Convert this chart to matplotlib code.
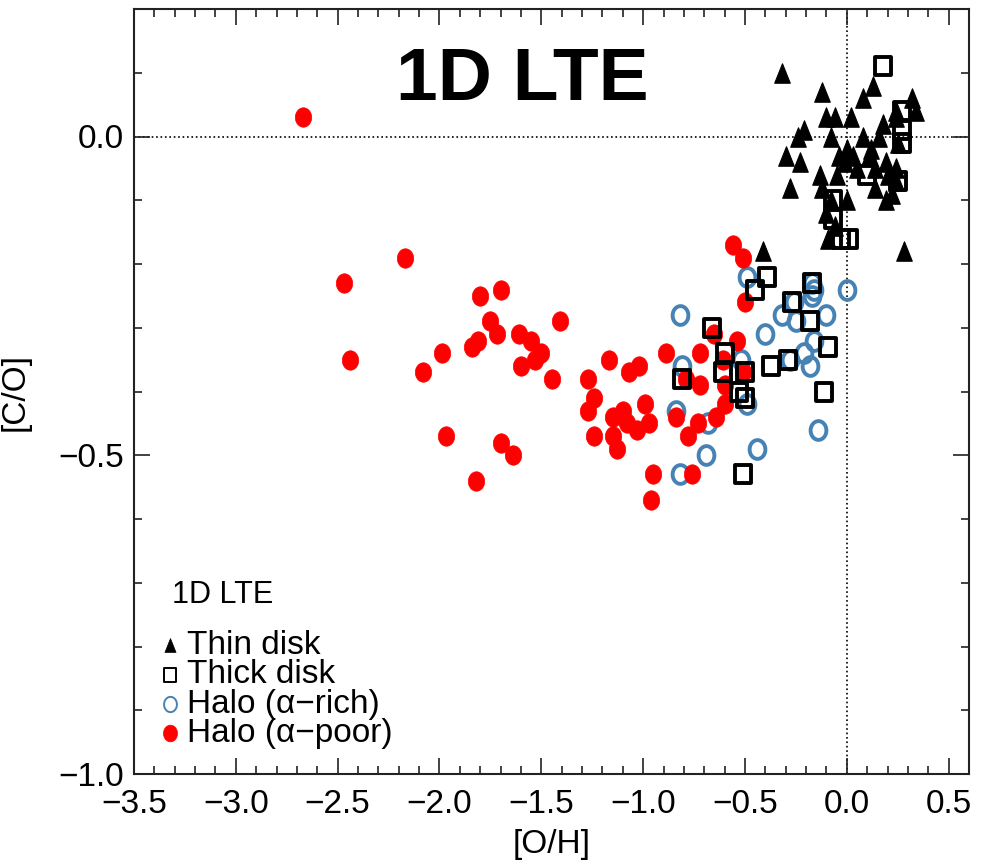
import numpy as np
import matplotlib
matplotlib.use('Agg')
import matplotlib.pyplot as plt
from matplotlib.path import Path
from matplotlib.ticker import MultipleLocator, FuncFormatter

# [O/H], [C/O]
thin_oh = [-0.32, -0.12, 0.13, 0.08, 0.32, 0.34, 0.24, -0.10, -0.06, 0.02,
           -0.21, -0.24, -0.08, -0.30, -0.23, -0.28, 0.08, 0.16, 0.18, 0.24,
           0.00, -0.04, 0.03, 0.11, -0.13, -0.05, -0.12, -0.08, 0.00, 0.14,
           0.19, 0.24, 0.14, 0.19, 0.24, -0.09, -0.41, 0.28, 0.25, -0.10,
           -0.06, -0.01, 0.05, 0.12, 0.20, 0.22]
thin_co = [0.10, 0.07, 0.08, 0.06, 0.06, 0.04, 0.04, 0.03, 0.03, 0.03,
           0.01, 0.00, 0.00, -0.03, -0.04, -0.08, 0.00, 0.00, 0.02, 0.03,
           -0.02, -0.03, -0.03, -0.03, -0.06, -0.06, -0.08, -0.10, -0.10, -0.05,
           -0.04, -0.05, -0.08, -0.10, -0.07, -0.16, -0.18, -0.18, -0.01, -0.12,
           -0.14, -0.04, -0.05, -0.02, -0.06, -0.09]

thick_oh = [-0.39, -0.45, -0.27, -0.17, -0.18, -0.66, -0.60, -0.61, -0.50, -0.53,
            -0.50, -0.81, -0.37, -0.29, -0.09, -0.11, -0.51,
            0.18, 0.27, 0.27, 0.27, 0.10, 0.25, -0.07, -0.07, -0.03, 0.01]
thick_co = [-0.22, -0.24, -0.26, -0.23, -0.29, -0.30, -0.34, -0.37, -0.37, -0.40,
            -0.41, -0.38, -0.36, -0.35, -0.33, -0.40, -0.53,
            0.11, 0.04, 0.01, -0.01, -0.06, -0.07, -0.10, -0.13, -0.16, -0.16]

rich_oh = [-0.82, -0.49, -0.40, -0.32, -0.26, -0.25, -0.17, -0.17, -0.16, -0.16,
           -0.10, 0.00, -0.21, -0.18, -0.28, -0.52, -0.81, -0.84, -0.68, -0.49,
           -0.69, -0.44, -0.14, -0.82]
rich_co = [-0.28, -0.22, -0.31, -0.28, -0.26, -0.29, -0.23, -0.25, -0.24, -0.32,
           -0.28, -0.24, -0.34, -0.36, -0.35, -0.35, -0.36, -0.43, -0.45, -0.42,
           -0.50, -0.49, -0.46, -0.53]

poor_oh = [-2.67, -2.47, -2.44, -2.17, -2.08, -1.99, -1.97, -1.82, -1.80, -1.75,
           -1.81, -1.84, -1.72, -1.70, -1.70, -1.64, -1.61, -1.55, -1.50, -1.60,
           -1.53, -1.41, -1.45, -1.27, -1.17, -1.02, -1.07, -0.89, -1.24, -1.27,
           -1.15, -1.10, -0.99, -1.08, -1.03, -0.97, -1.15, -1.13, -1.24, -0.95,
           -0.96, -0.56, -0.51, -0.50, -0.54, -0.65, -0.72, -0.79, -0.72, -0.51,
           -0.60, -0.84, -0.73, -0.64, -0.60, -0.78, -0.76, -0.61]
poor_co = [0.03, -0.23, -0.35, -0.19, -0.37, -0.34, -0.47, -0.54, -0.25, -0.29,
           -0.32, -0.33, -0.31, -0.24, -0.48, -0.50, -0.31, -0.32, -0.34, -0.36,
           -0.35, -0.29, -0.38, -0.38, -0.35, -0.36, -0.37, -0.34, -0.41, -0.43,
           -0.44, -0.43, -0.42, -0.45, -0.46, -0.45, -0.47, -0.49, -0.47, -0.53,
           -0.57, -0.17, -0.19, -0.26, -0.32, -0.31, -0.34, -0.38, -0.39, -0.37,
           -0.39, -0.44, -0.45, -0.44, -0.42, -0.47, -0.53, -0.35]

legend_labels = ['Thin disk', 'Thick disk', 'Halo (\u03b1\u2212rich)', 'Halo (\u03b1\u2212poor)']

plt.rcParams['font.family'] = ['Liberation Sans', 'DejaVu Sans']

# squeezed marker shapes (the reference image is compressed sideways)
t = np.linspace(0, 2 * np.pi, 60)
ellipse = Path(np.column_stack([0.84 * np.cos(t), np.sin(t)]), closed=True)
square = Path([(-0.85, -1), (0.85, -1), (0.85, 1), (-0.85, 1), (-0.85, -1)], closed=True)
triangle = Path([(0, 1), (-0.8, -1), (0.8, -1), (0, 1)], closed=True)

fig = plt.figure(figsize=(9.88, 8.66), dpi=100)
ax = fig.add_axes([134 / 988, 1 - 774 / 866, 835 / 988, 765 / 866])

ax.axhline(0, color='k', ls=':', lw=1.2, zorder=1)
ax.axvline(0, color='k', ls=':', lw=1.2, zorder=1)

ax.plot(rich_oh, rich_co, ls='none', marker=ellipse, ms=13.5, mfc='none',
        mec='#4682b4', mew=2.8, zorder=2)
ax.plot(poor_oh, poor_co, ls='none', marker=ellipse, ms=14, mfc='red',
        mec='red', mew=0.5, zorder=3)
ax.plot(thick_oh, thick_co, ls='none', marker=square, ms=13.5, mfc='none',
        mec='black', mew=2.8, zorder=4)
ax.plot(thin_oh, thin_co, ls='none', marker=triangle, ms=14, mfc='black',
        mec='black', mew=0.8, zorder=5)

ax.set_xlim(-3.5, 0.6)
ax.set_ylim(-1.0, 0.2)
fmt = FuncFormatter(lambda v, p: ('%.1f' % v).replace('-', '\u2212'))
ax.xaxis.set_major_locator(MultipleLocator(0.5))
ax.xaxis.set_minor_locator(MultipleLocator(0.1))
ax.yaxis.set_major_locator(MultipleLocator(0.5))
ax.yaxis.set_minor_locator(MultipleLocator(0.1))
ax.xaxis.set_major_formatter(fmt)
ax.yaxis.set_major_formatter(fmt)
ax.tick_params(which='both', direction='in', top=True, right=True, width=1.2,
               labelsize=24, color='#222222')
ax.tick_params(axis='x', which='major', length=11.5, pad=11)
ax.tick_params(axis='y', which='major', length=11.5, pad=7)
ax.tick_params(which='minor', length=5.8)
for s in ax.spines.values():
    s.set_linewidth(1.5)
    s.set_color('#222222')

ax.set_xlabel('[O/H]', fontsize=24, labelpad=6)
ax.set_ylabel('[C/O]', fontsize=24, labelpad=20)

fig.text(522 / 988, 1 - 81 / 866, '1D LTE', fontsize=54, fontweight='bold',
         ha='center', va='center')

# legend block in the lower-left corner
ax.text(0.0455, 0.2235, '1D LTE', fontsize=22, transform=ax.transAxes)
styles = [dict(marker=triangle, ms=10, mfc='black', mec='black', mew=0.5),
          dict(marker=square, ms=10, mfc='none', mec='black', mew=1.4),
          dict(marker=ellipse, ms=11, mfc='none', mec='#4682b4', mew=1.4),
          dict(marker=ellipse, ms=12, mfc='red', mec='red', mew=0.5)]
mark_y = [0.1686, 0.1300, 0.0915, 0.0530]
for st, my in zip(styles, mark_y):
    ax.plot([0.0431], [my], ls='none', transform=ax.transAxes, clip_on=False, **st)
ax.text(0.0635, 0.0418, '\n'.join(legend_labels), fontsize=24, linespacing=0.93,
        transform=ax.transAxes, va='baseline')

fig.savefig('out.png', dpi=100)
